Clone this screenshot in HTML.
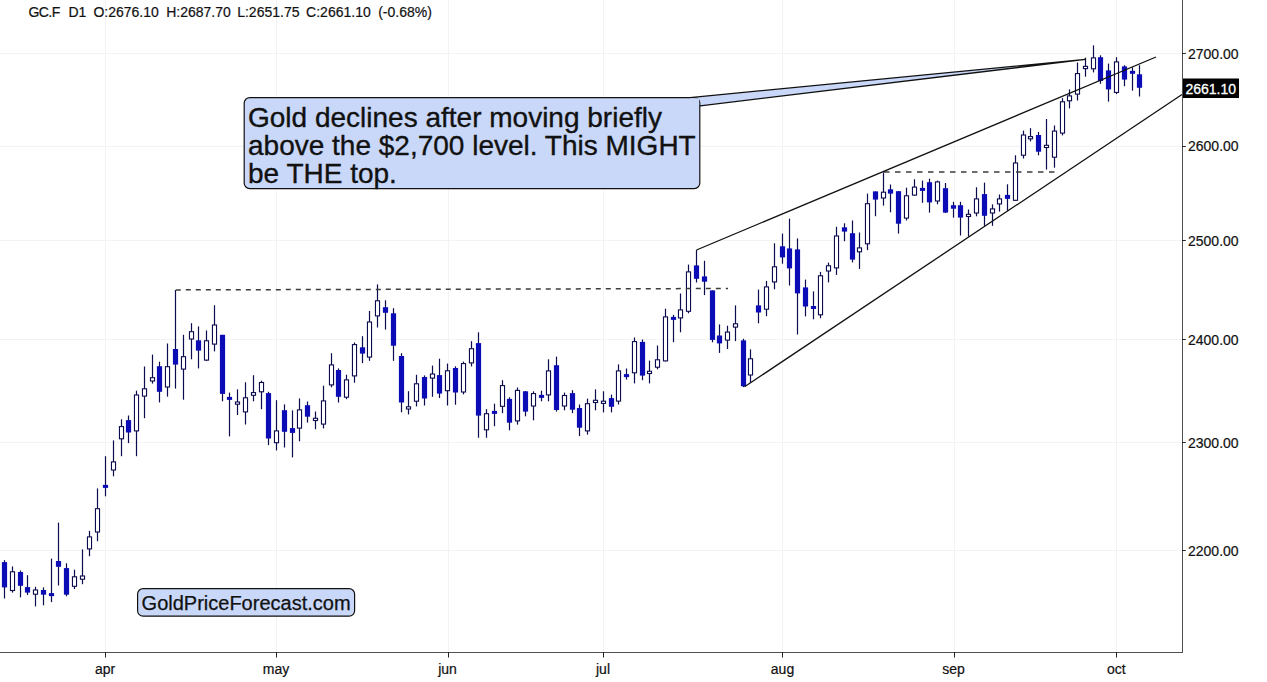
<!DOCTYPE html>
<html><head><meta charset="utf-8"><title>GC.F</title>
<style>
html,body{margin:0;padding:0;background:#fff;}
body{width:1267px;height:682px;position:relative;overflow:hidden;font-family:"Liberation Sans",sans-serif;color:#111;}
svg{position:absolute;left:0;top:0;}
.t{position:absolute;white-space:nowrap;line-height:1;-webkit-text-stroke:0.2px #111;}
.hd{font-size:14px;top:5px;}
.yl{font-size:14px;left:1188px;}
.xl{font-size:14px;top:662px;transform:translateX(-50%);}
.co{font-size:28px;line-height:28.1px;left:248px;top:104.3px;-webkit-text-stroke:0.35px #111;}
.wm{font-size:20px;left:141.6px;top:593.3px;-webkit-text-stroke:0.25px #111;}
.pt{font-size:14px;left:1185.4px;top:82.2px;color:#fff;-webkit-text-stroke:0.3px #fff;}
</style></head><body>
<svg width="1267" height="682" viewBox="0 0 1267 682">
<line x1="0" y1="53.5" x2="1182" y2="53.5" stroke="#f3f3f3" stroke-width="1"/>
<line x1="0" y1="146.5" x2="1182" y2="146.5" stroke="#f3f3f3" stroke-width="1"/>
<line x1="0" y1="240.5" x2="1182" y2="240.5" stroke="#f3f3f3" stroke-width="1"/>
<line x1="0" y1="339.5" x2="1182" y2="339.5" stroke="#f3f3f3" stroke-width="1"/>
<line x1="0" y1="442.5" x2="1182" y2="442.5" stroke="#f3f3f3" stroke-width="1"/>
<line x1="0" y1="550.5" x2="1182" y2="550.5" stroke="#f3f3f3" stroke-width="1"/>
<line x1="105.5" y1="0" x2="105.5" y2="652" stroke="#f3f3f3" stroke-width="1"/>
<line x1="276.5" y1="0" x2="276.5" y2="652" stroke="#f3f3f3" stroke-width="1"/>
<line x1="448.5" y1="0" x2="448.5" y2="652" stroke="#f3f3f3" stroke-width="1"/>
<line x1="603.5" y1="0" x2="603.5" y2="652" stroke="#f3f3f3" stroke-width="1"/>
<line x1="782.5" y1="0" x2="782.5" y2="652" stroke="#f3f3f3" stroke-width="1"/>
<line x1="954.5" y1="0" x2="954.5" y2="652" stroke="#f3f3f3" stroke-width="1"/>
<line x1="1116.5" y1="0" x2="1116.5" y2="652" stroke="#f3f3f3" stroke-width="1"/>
<rect x="3.9" y="560.2" width="1.2" height="38.3" fill="#0b0b4e"/>
<rect x="1.9" y="562.1" width="5.2" height="25.3" fill="#0c0cb6"/>
<rect x="11.9" y="566.5" width="1.2" height="26.1" fill="#0b0b4e"/>
<rect x="10.45" y="571.8" width="4.1" height="18.7" fill="#fff" stroke="#0b0b4e" stroke-width="1.1"/>
<rect x="19.9" y="570.5" width="1.2" height="26.9" fill="#0b0b4e"/>
<rect x="17.9" y="572.0" width="5.2" height="13.8" fill="#0c0cb6"/>
<rect x="26.9" y="575.2" width="1.2" height="19.8" fill="#0b0b4e"/>
<rect x="24.9" y="587.1" width="5.2" height="5.5" fill="#0c0cb6"/>
<rect x="34.9" y="586.8" width="1.2" height="19.6" fill="#0b0b4e"/>
<rect x="33.45" y="590.0" width="4.1" height="4.2" fill="#fff" stroke="#0b0b4e" stroke-width="1.1"/>
<rect x="42.9" y="587.4" width="1.2" height="17.9" fill="#0b0b4e"/>
<rect x="40.9" y="590.0" width="5.2" height="4.7" fill="#0c0cb6"/>
<rect x="50.9" y="558.6" width="1.2" height="43.5" fill="#0b0b4e"/>
<rect x="48.9" y="593.1" width="5.2" height="3.0" fill="#0c0cb6"/>
<rect x="57.9" y="522.6" width="1.2" height="62.9" fill="#0b0b4e"/>
<rect x="55.9" y="561.0" width="5.2" height="5.8" fill="#0c0cb6"/>
<rect x="65.9" y="563.3" width="1.2" height="33.0" fill="#0b0b4e"/>
<rect x="63.9" y="568.1" width="5.2" height="26.6" fill="#0c0cb6"/>
<rect x="73.9" y="569.7" width="1.2" height="19.3" fill="#0b0b4e"/>
<rect x="72.45" y="576.8" width="4.1" height="9.5" fill="#fff" stroke="#0b0b4e" stroke-width="1.1"/>
<rect x="81.9" y="549.4" width="1.2" height="34.8" fill="#0b0b4e"/>
<rect x="80.45" y="576.0" width="4.1" height="3.2" fill="#fff" stroke="#0b0b4e" stroke-width="1.1"/>
<rect x="88.9" y="530.9" width="1.2" height="25.3" fill="#0b0b4e"/>
<rect x="87.45" y="536.9" width="4.1" height="12.0" fill="#fff" stroke="#0b0b4e" stroke-width="1.1"/>
<rect x="96.9" y="488.4" width="1.2" height="52.8" fill="#0b0b4e"/>
<rect x="95.45" y="508.7" width="4.1" height="23.3" fill="#fff" stroke="#0b0b4e" stroke-width="1.1"/>
<rect x="104.9" y="456.2" width="1.2" height="40.1" fill="#0b0b4e"/>
<rect x="102.9" y="484.9" width="5.2" height="3.0" fill="#0c0cb6"/>
<rect x="112.9" y="440.4" width="1.2" height="35.9" fill="#0b0b4e"/>
<rect x="111.45" y="461.9" width="4.1" height="8.1" fill="#fff" stroke="#0b0b4e" stroke-width="1.1"/>
<rect x="120.9" y="419.3" width="1.2" height="36.9" fill="#0b0b4e"/>
<rect x="119.45" y="426.6" width="4.1" height="12.2" fill="#fff" stroke="#0b0b4e" stroke-width="1.1"/>
<rect x="127.9" y="415.5" width="1.2" height="27.6" fill="#0b0b4e"/>
<rect x="125.9" y="420.1" width="5.2" height="12.4" fill="#0c0cb6"/>
<rect x="135.9" y="390.7" width="1.2" height="65.5" fill="#0b0b4e"/>
<rect x="134.45" y="395.0" width="4.1" height="35.9" fill="#fff" stroke="#0b0b4e" stroke-width="1.1"/>
<rect x="143.9" y="366.5" width="1.2" height="51.7" fill="#0b0b4e"/>
<rect x="142.45" y="388.8" width="4.1" height="7.3" fill="#fff" stroke="#0b0b4e" stroke-width="1.1"/>
<rect x="151.9" y="354.6" width="1.2" height="29.0" fill="#0b0b4e"/>
<rect x="150.45" y="377.7" width="4.1" height="3.3" fill="#fff" stroke="#0b0b4e" stroke-width="1.1"/>
<rect x="158.9" y="361.7" width="1.2" height="40.7" fill="#0b0b4e"/>
<rect x="156.9" y="366.2" width="5.2" height="25.6" fill="#0c0cb6"/>
<rect x="166.9" y="343.5" width="1.2" height="53.1" fill="#0b0b4e"/>
<rect x="165.45" y="366.7" width="4.1" height="20.3" fill="#fff" stroke="#0b0b4e" stroke-width="1.1"/>
<rect x="174.9" y="290.0" width="1.2" height="98.6" fill="#0b0b4e"/>
<rect x="172.9" y="349.0" width="5.2" height="15.6" fill="#0c0cb6"/>
<rect x="182.9" y="334.8" width="1.2" height="64.9" fill="#0b0b4e"/>
<rect x="181.45" y="356.7" width="4.1" height="12.4" fill="#fff" stroke="#0b0b4e" stroke-width="1.1"/>
<rect x="190.9" y="323.2" width="1.2" height="36.1" fill="#0b0b4e"/>
<rect x="189.45" y="331.7" width="4.1" height="7.3" fill="#fff" stroke="#0b0b4e" stroke-width="1.1"/>
<rect x="197.9" y="326.4" width="1.2" height="42.0" fill="#0b0b4e"/>
<rect x="195.9" y="340.3" width="5.2" height="10.3" fill="#0c0cb6"/>
<rect x="205.9" y="330.5" width="1.2" height="30.5" fill="#0b0b4e"/>
<rect x="204.45" y="340.8" width="4.1" height="19.3" fill="#fff" stroke="#0b0b4e" stroke-width="1.1"/>
<rect x="213.9" y="305.2" width="1.2" height="46.2" fill="#0b0b4e"/>
<rect x="212.45" y="325.0" width="4.1" height="19.1" fill="#fff" stroke="#0b0b4e" stroke-width="1.1"/>
<rect x="221.9" y="334.8" width="1.2" height="66.5" fill="#0b0b4e"/>
<rect x="219.9" y="334.8" width="5.2" height="59.1" fill="#0c0cb6"/>
<rect x="228.9" y="392.6" width="1.2" height="43.8" fill="#0b0b4e"/>
<rect x="226.9" y="396.9" width="5.2" height="3.0" fill="#0c0cb6"/>
<rect x="236.9" y="389.4" width="1.2" height="25.6" fill="#0b0b4e"/>
<rect x="235.45" y="402.0" width="4.1" height="2.2" fill="#fff" stroke="#0b0b4e" stroke-width="1.1"/>
<rect x="244.9" y="382.3" width="1.2" height="42.2" fill="#0b0b4e"/>
<rect x="243.45" y="397.8" width="4.1" height="14.1" fill="#fff" stroke="#0b0b4e" stroke-width="1.1"/>
<rect x="252.9" y="375.2" width="1.2" height="26.1" fill="#0b0b4e"/>
<rect x="251.45" y="392.6" width="4.1" height="2.7" fill="#fff" stroke="#0b0b4e" stroke-width="1.1"/>
<rect x="260.9" y="380.7" width="1.2" height="28.5" fill="#0b0b4e"/>
<rect x="259.45" y="382.5" width="4.1" height="9.3" fill="#fff" stroke="#0b0b4e" stroke-width="1.1"/>
<rect x="267.9" y="391.8" width="1.2" height="53.3" fill="#0b0b4e"/>
<rect x="265.9" y="393.1" width="5.2" height="45.4" fill="#0c0cb6"/>
<rect x="275.9" y="400.2" width="1.2" height="50.2" fill="#0b0b4e"/>
<rect x="274.45" y="430.9" width="4.1" height="11.8" fill="#fff" stroke="#0b0b4e" stroke-width="1.1"/>
<rect x="283.9" y="404.4" width="1.2" height="43.1" fill="#0b0b4e"/>
<rect x="281.9" y="410.2" width="5.2" height="21.6" fill="#0c0cb6"/>
<rect x="291.9" y="410.4" width="1.2" height="47.0" fill="#0b0b4e"/>
<rect x="289.9" y="428.1" width="5.2" height="4.8" fill="#0c0cb6"/>
<rect x="298.9" y="398.5" width="1.2" height="42.8" fill="#0b0b4e"/>
<rect x="297.45" y="409.9" width="4.1" height="18.2" fill="#fff" stroke="#0b0b4e" stroke-width="1.1"/>
<rect x="306.9" y="401.5" width="1.2" height="21.1" fill="#0b0b4e"/>
<rect x="304.9" y="405.2" width="5.2" height="11.5" fill="#0c0cb6"/>
<rect x="314.9" y="411.5" width="1.2" height="17.7" fill="#0b0b4e"/>
<rect x="313.45" y="418.3" width="4.1" height="2.2" fill="#fff" stroke="#0b0b4e" stroke-width="1.1"/>
<rect x="322.9" y="385.7" width="1.2" height="42.7" fill="#0b0b4e"/>
<rect x="321.45" y="400.9" width="4.1" height="23.2" fill="#fff" stroke="#0b0b4e" stroke-width="1.1"/>
<rect x="330.9" y="353.2" width="1.2" height="34.1" fill="#0b0b4e"/>
<rect x="329.45" y="364.9" width="4.1" height="20.0" fill="#fff" stroke="#0b0b4e" stroke-width="1.1"/>
<rect x="337.9" y="368.4" width="1.2" height="34.1" fill="#0b0b4e"/>
<rect x="335.9" y="370.0" width="5.2" height="26.8" fill="#0c0cb6"/>
<rect x="345.9" y="374.7" width="1.2" height="24.5" fill="#0b0b4e"/>
<rect x="344.45" y="379.9" width="4.1" height="17.3" fill="#fff" stroke="#0b0b4e" stroke-width="1.1"/>
<rect x="353.9" y="342.5" width="1.2" height="40.2" fill="#0b0b4e"/>
<rect x="352.45" y="344.6" width="4.1" height="31.3" fill="#fff" stroke="#0b0b4e" stroke-width="1.1"/>
<rect x="361.9" y="336.2" width="1.2" height="26.9" fill="#0b0b4e"/>
<rect x="359.9" y="347.3" width="5.2" height="6.3" fill="#0c0cb6"/>
<rect x="368.9" y="310.9" width="1.2" height="49.9" fill="#0b0b4e"/>
<rect x="367.45" y="322.0" width="4.1" height="35.1" fill="#fff" stroke="#0b0b4e" stroke-width="1.1"/>
<rect x="376.9" y="284.4" width="1.2" height="43.1" fill="#0b0b4e"/>
<rect x="375.45" y="300.8" width="4.1" height="15.1" fill="#fff" stroke="#0b0b4e" stroke-width="1.1"/>
<rect x="384.9" y="300.3" width="1.2" height="29.3" fill="#0b0b4e"/>
<rect x="382.9" y="307.2" width="5.2" height="5.6" fill="#0c0cb6"/>
<rect x="392.9" y="308.2" width="1.2" height="52.6" fill="#0b0b4e"/>
<rect x="390.9" y="313.3" width="5.2" height="32.4" fill="#0c0cb6"/>
<rect x="400.9" y="353.2" width="1.2" height="59.1" fill="#0b0b4e"/>
<rect x="398.9" y="356.0" width="5.2" height="46.5" fill="#0c0cb6"/>
<rect x="407.9" y="391.2" width="1.2" height="23.2" fill="#0b0b4e"/>
<rect x="406.45" y="406.8" width="4.1" height="2.2" fill="#fff" stroke="#0b0b4e" stroke-width="1.1"/>
<rect x="415.9" y="374.8" width="1.2" height="31.6" fill="#0b0b4e"/>
<rect x="414.45" y="383.8" width="4.1" height="17.4" fill="#fff" stroke="#0b0b4e" stroke-width="1.1"/>
<rect x="423.9" y="375.4" width="1.2" height="30.1" fill="#0b0b4e"/>
<rect x="421.9" y="377.0" width="5.2" height="21.5" fill="#0c0cb6"/>
<rect x="431.9" y="365.6" width="1.2" height="31.2" fill="#0b0b4e"/>
<rect x="430.45" y="374.0" width="4.1" height="4.1" fill="#fff" stroke="#0b0b4e" stroke-width="1.1"/>
<rect x="438.9" y="358.7" width="1.2" height="39.3" fill="#0b0b4e"/>
<rect x="436.9" y="375.1" width="5.2" height="18.5" fill="#0c0cb6"/>
<rect x="446.9" y="363.6" width="1.2" height="41.9" fill="#0b0b4e"/>
<rect x="445.45" y="370.8" width="4.1" height="19.9" fill="#fff" stroke="#0b0b4e" stroke-width="1.1"/>
<rect x="454.9" y="366.3" width="1.2" height="38.4" fill="#0b0b4e"/>
<rect x="452.9" y="368.0" width="5.2" height="24.5" fill="#0c0cb6"/>
<rect x="462.9" y="361.6" width="1.2" height="32.8" fill="#0b0b4e"/>
<rect x="461.45" y="363.6" width="4.1" height="28.4" fill="#fff" stroke="#0b0b4e" stroke-width="1.1"/>
<rect x="470.9" y="341.2" width="1.2" height="25.2" fill="#0b0b4e"/>
<rect x="469.45" y="348.7" width="4.1" height="14.2" fill="#fff" stroke="#0b0b4e" stroke-width="1.1"/>
<rect x="477.9" y="332.3" width="1.2" height="105.4" fill="#0b0b4e"/>
<rect x="475.9" y="343.1" width="5.2" height="72.5" fill="#0c0cb6"/>
<rect x="485.9" y="409.2" width="1.2" height="28.5" fill="#0b0b4e"/>
<rect x="484.45" y="413.7" width="4.1" height="16.1" fill="#fff" stroke="#0b0b4e" stroke-width="1.1"/>
<rect x="493.9" y="403.7" width="1.2" height="22.5" fill="#0b0b4e"/>
<rect x="491.9" y="410.9" width="5.2" height="3.0" fill="#0c0cb6"/>
<rect x="501.9" y="380.2" width="1.2" height="33.0" fill="#0b0b4e"/>
<rect x="500.45" y="385.6" width="4.1" height="20.7" fill="#fff" stroke="#0b0b4e" stroke-width="1.1"/>
<rect x="508.9" y="397.3" width="1.2" height="33.0" fill="#0b0b4e"/>
<rect x="506.9" y="398.9" width="5.2" height="23.8" fill="#0c0cb6"/>
<rect x="516.9" y="387.5" width="1.2" height="37.1" fill="#0b0b4e"/>
<rect x="515.45" y="390.4" width="4.1" height="30.5" fill="#fff" stroke="#0b0b4e" stroke-width="1.1"/>
<rect x="524.9" y="391.0" width="1.2" height="25.3" fill="#0b0b4e"/>
<rect x="522.9" y="391.3" width="5.2" height="20.3" fill="#0c0cb6"/>
<rect x="532.9" y="391.3" width="1.2" height="29.0" fill="#0b0b4e"/>
<rect x="531.45" y="393.6" width="4.1" height="12.4" fill="#fff" stroke="#0b0b4e" stroke-width="1.1"/>
<rect x="540.9" y="390.7" width="1.2" height="10.6" fill="#0b0b4e"/>
<rect x="538.9" y="394.9" width="5.2" height="3.0" fill="#0c0cb6"/>
<rect x="547.9" y="359.3" width="1.2" height="42.0" fill="#0b0b4e"/>
<rect x="546.45" y="370.9" width="4.1" height="24.0" fill="#fff" stroke="#0b0b4e" stroke-width="1.1"/>
<rect x="555.9" y="356.6" width="1.2" height="55.0" fill="#0b0b4e"/>
<rect x="553.9" y="365.2" width="5.2" height="44.8" fill="#0c0cb6"/>
<rect x="563.9" y="392.6" width="1.2" height="17.7" fill="#0b0b4e"/>
<rect x="562.45" y="395.5" width="4.1" height="10.5" fill="#fff" stroke="#0b0b4e" stroke-width="1.1"/>
<rect x="571.9" y="390.2" width="1.2" height="23.0" fill="#0b0b4e"/>
<rect x="569.9" y="393.1" width="5.2" height="16.6" fill="#0c0cb6"/>
<rect x="578.9" y="404.5" width="1.2" height="31.6" fill="#0b0b4e"/>
<rect x="576.9" y="408.0" width="5.2" height="19.7" fill="#0c0cb6"/>
<rect x="586.9" y="398.6" width="1.2" height="36.0" fill="#0b0b4e"/>
<rect x="585.45" y="403.7" width="4.1" height="27.2" fill="#fff" stroke="#0b0b4e" stroke-width="1.1"/>
<rect x="594.9" y="389.4" width="1.2" height="20.9" fill="#0b0b4e"/>
<rect x="593.45" y="400.3" width="4.1" height="2.2" fill="#fff" stroke="#0b0b4e" stroke-width="1.1"/>
<rect x="602.9" y="391.3" width="1.2" height="21.1" fill="#0b0b4e"/>
<rect x="601.45" y="401.2" width="4.1" height="2.2" fill="#fff" stroke="#0b0b4e" stroke-width="1.1"/>
<rect x="610.9" y="394.6" width="1.2" height="17.8" fill="#0b0b4e"/>
<rect x="608.9" y="398.1" width="5.2" height="8.7" fill="#0c0cb6"/>
<rect x="617.9" y="364.4" width="1.2" height="40.1" fill="#0b0b4e"/>
<rect x="616.45" y="370.9" width="4.1" height="30.2" fill="#fff" stroke="#0b0b4e" stroke-width="1.1"/>
<rect x="625.9" y="368.5" width="1.2" height="11.1" fill="#0b0b4e"/>
<rect x="623.9" y="374.1" width="5.2" height="3.0" fill="#0c0cb6"/>
<rect x="633.9" y="337.5" width="1.2" height="45.9" fill="#0b0b4e"/>
<rect x="632.45" y="341.6" width="4.1" height="31.2" fill="#fff" stroke="#0b0b4e" stroke-width="1.1"/>
<rect x="641.9" y="339.5" width="1.2" height="40.7" fill="#0b0b4e"/>
<rect x="639.9" y="341.9" width="5.2" height="33.7" fill="#0c0cb6"/>
<rect x="648.9" y="360.6" width="1.2" height="22.8" fill="#0b0b4e"/>
<rect x="647.45" y="371.3" width="4.1" height="2.2" fill="#fff" stroke="#0b0b4e" stroke-width="1.1"/>
<rect x="656.9" y="345.5" width="1.2" height="23.8" fill="#0b0b4e"/>
<rect x="655.45" y="359.8" width="4.1" height="7.4" fill="#fff" stroke="#0b0b4e" stroke-width="1.1"/>
<rect x="664.9" y="308.7" width="1.2" height="52.7" fill="#0b0b4e"/>
<rect x="663.45" y="316.9" width="4.1" height="44.0" fill="#fff" stroke="#0b0b4e" stroke-width="1.1"/>
<rect x="672.9" y="314.9" width="1.2" height="27.3" fill="#0b0b4e"/>
<rect x="670.9" y="316.9" width="5.2" height="3.0" fill="#0c0cb6"/>
<rect x="679.9" y="293.5" width="1.2" height="38.8" fill="#0b0b4e"/>
<rect x="678.45" y="309.9" width="4.1" height="8.0" fill="#fff" stroke="#0b0b4e" stroke-width="1.1"/>
<rect x="687.9" y="264.6" width="1.2" height="48.7" fill="#0b0b4e"/>
<rect x="686.45" y="271.9" width="4.1" height="39.4" fill="#fff" stroke="#0b0b4e" stroke-width="1.1"/>
<rect x="695.9" y="250.0" width="1.2" height="32.5" fill="#0b0b4e"/>
<rect x="693.9" y="265.4" width="5.2" height="13.4" fill="#0c0cb6"/>
<rect x="703.9" y="260.8" width="1.2" height="34.3" fill="#0b0b4e"/>
<rect x="701.9" y="276.4" width="5.2" height="5.3" fill="#0c0cb6"/>
<rect x="711.9" y="290.4" width="1.2" height="51.9" fill="#0b0b4e"/>
<rect x="709.9" y="290.4" width="5.2" height="49.5" fill="#0c0cb6"/>
<rect x="718.9" y="324.4" width="1.2" height="28.5" fill="#0b0b4e"/>
<rect x="716.9" y="335.5" width="5.2" height="7.9" fill="#0c0cb6"/>
<rect x="726.9" y="325.7" width="1.2" height="23.3" fill="#0b0b4e"/>
<rect x="725.45" y="332.1" width="4.1" height="8.0" fill="#fff" stroke="#0b0b4e" stroke-width="1.1"/>
<rect x="734.9" y="305.4" width="1.2" height="35.7" fill="#0b0b4e"/>
<rect x="733.45" y="323.8" width="4.1" height="3.3" fill="#fff" stroke="#0b0b4e" stroke-width="1.1"/>
<rect x="742.9" y="338.8" width="1.2" height="48.3" fill="#0b0b4e"/>
<rect x="740.9" y="340.4" width="5.2" height="45.9" fill="#0c0cb6"/>
<rect x="749.9" y="349.4" width="1.2" height="33.3" fill="#0b0b4e"/>
<rect x="748.45" y="358.8" width="4.1" height="16.2" fill="#fff" stroke="#0b0b4e" stroke-width="1.1"/>
<rect x="757.9" y="289.6" width="1.2" height="33.7" fill="#0b0b4e"/>
<rect x="755.9" y="305.4" width="5.2" height="7.1" fill="#0c0cb6"/>
<rect x="765.9" y="280.9" width="1.2" height="35.3" fill="#0b0b4e"/>
<rect x="764.45" y="286.9" width="4.1" height="22.3" fill="#fff" stroke="#0b0b4e" stroke-width="1.1"/>
<rect x="773.9" y="243.3" width="1.2" height="46.0" fill="#0b0b4e"/>
<rect x="772.45" y="266.8" width="4.1" height="15.1" fill="#fff" stroke="#0b0b4e" stroke-width="1.1"/>
<rect x="781.9" y="233.6" width="1.2" height="30.1" fill="#0b0b4e"/>
<rect x="779.9" y="246.3" width="5.2" height="11.1" fill="#0c0cb6"/>
<rect x="788.9" y="218.6" width="1.2" height="66.9" fill="#0b0b4e"/>
<rect x="786.9" y="248.4" width="5.2" height="20.0" fill="#0c0cb6"/>
<rect x="796.9" y="238.4" width="1.2" height="96.1" fill="#0b0b4e"/>
<rect x="794.9" y="249.4" width="5.2" height="44.0" fill="#0c0cb6"/>
<rect x="804.9" y="279.6" width="1.2" height="36.8" fill="#0b0b4e"/>
<rect x="802.9" y="287.4" width="5.2" height="19.1" fill="#0c0cb6"/>
<rect x="812.9" y="291.4" width="1.2" height="27.9" fill="#0b0b4e"/>
<rect x="810.9" y="306.0" width="5.2" height="3.0" fill="#0c0cb6"/>
<rect x="819.9" y="271.9" width="1.2" height="46.3" fill="#0b0b4e"/>
<rect x="818.45" y="275.8" width="4.1" height="39.0" fill="#fff" stroke="#0b0b4e" stroke-width="1.1"/>
<rect x="827.9" y="262.6" width="1.2" height="19.8" fill="#0b0b4e"/>
<rect x="826.45" y="265.8" width="4.1" height="5.2" fill="#fff" stroke="#0b0b4e" stroke-width="1.1"/>
<rect x="835.9" y="226.8" width="1.2" height="48.1" fill="#0b0b4e"/>
<rect x="834.45" y="236.0" width="4.1" height="31.9" fill="#fff" stroke="#0b0b4e" stroke-width="1.1"/>
<rect x="843.9" y="223.3" width="1.2" height="17.9" fill="#0b0b4e"/>
<rect x="841.9" y="227.3" width="5.2" height="4.3" fill="#0c0cb6"/>
<rect x="851.9" y="220.5" width="1.2" height="41.9" fill="#0b0b4e"/>
<rect x="849.9" y="233.2" width="5.2" height="26.4" fill="#0c0cb6"/>
<rect x="858.9" y="232.5" width="1.2" height="36.4" fill="#0b0b4e"/>
<rect x="857.45" y="247.9" width="4.1" height="3.9" fill="#fff" stroke="#0b0b4e" stroke-width="1.1"/>
<rect x="866.9" y="193.6" width="1.2" height="56.5" fill="#0b0b4e"/>
<rect x="865.45" y="203.7" width="4.1" height="40.1" fill="#fff" stroke="#0b0b4e" stroke-width="1.1"/>
<rect x="874.9" y="191.4" width="1.2" height="24.8" fill="#0b0b4e"/>
<rect x="872.9" y="191.4" width="5.2" height="8.2" fill="#0c0cb6"/>
<rect x="882.9" y="172.4" width="1.2" height="33.2" fill="#0b0b4e"/>
<rect x="881.45" y="192.2" width="4.1" height="5.8" fill="#fff" stroke="#0b0b4e" stroke-width="1.1"/>
<rect x="889.9" y="184.5" width="1.2" height="27.8" fill="#0b0b4e"/>
<rect x="887.9" y="189.3" width="5.2" height="4.3" fill="#0c0cb6"/>
<rect x="897.9" y="191.2" width="1.2" height="42.4" fill="#0b0b4e"/>
<rect x="895.9" y="191.2" width="5.2" height="32.5" fill="#0c0cb6"/>
<rect x="905.9" y="187.7" width="1.2" height="32.8" fill="#0b0b4e"/>
<rect x="904.45" y="195.8" width="4.1" height="22.3" fill="#fff" stroke="#0b0b4e" stroke-width="1.1"/>
<rect x="913.9" y="179.3" width="1.2" height="16.3" fill="#0b0b4e"/>
<rect x="912.45" y="187.1" width="4.1" height="8.0" fill="#fff" stroke="#0b0b4e" stroke-width="1.1"/>
<rect x="921.9" y="180.6" width="1.2" height="22.2" fill="#0b0b4e"/>
<rect x="919.9" y="187.9" width="5.2" height="3.0" fill="#0c0cb6"/>
<rect x="928.9" y="178.7" width="1.2" height="33.9" fill="#0b0b4e"/>
<rect x="926.9" y="182.2" width="5.2" height="20.2" fill="#0c0cb6"/>
<rect x="936.9" y="180.6" width="1.2" height="23.7" fill="#0b0b4e"/>
<rect x="935.45" y="181.9" width="4.1" height="19.1" fill="#fff" stroke="#0b0b4e" stroke-width="1.1"/>
<rect x="944.9" y="183.0" width="1.2" height="30.0" fill="#0b0b4e"/>
<rect x="942.9" y="188.2" width="5.2" height="24.4" fill="#0c0cb6"/>
<rect x="952.9" y="201.8" width="1.2" height="15.8" fill="#0b0b4e"/>
<rect x="950.9" y="205.2" width="5.2" height="3.5" fill="#0c0cb6"/>
<rect x="959.9" y="201.8" width="1.2" height="33.7" fill="#0b0b4e"/>
<rect x="957.9" y="205.2" width="5.2" height="12.4" fill="#0c0cb6"/>
<rect x="967.9" y="209.5" width="1.2" height="27.1" fill="#0b0b4e"/>
<rect x="966.45" y="214.3" width="4.1" height="2.2" fill="#fff" stroke="#0b0b4e" stroke-width="1.1"/>
<rect x="975.9" y="187.3" width="1.2" height="29.0" fill="#0b0b4e"/>
<rect x="974.45" y="198.9" width="4.1" height="14.1" fill="#fff" stroke="#0b0b4e" stroke-width="1.1"/>
<rect x="983.9" y="182.6" width="1.2" height="43.2" fill="#0b0b4e"/>
<rect x="981.9" y="194.1" width="5.2" height="21.7" fill="#0c0cb6"/>
<rect x="991.9" y="204.4" width="1.2" height="21.4" fill="#0b0b4e"/>
<rect x="990.45" y="208.9" width="4.1" height="4.1" fill="#fff" stroke="#0b0b4e" stroke-width="1.1"/>
<rect x="998.9" y="194.5" width="1.2" height="17.1" fill="#0b0b4e"/>
<rect x="997.45" y="198.9" width="4.1" height="5.0" fill="#fff" stroke="#0b0b4e" stroke-width="1.1"/>
<rect x="1006.9" y="184.3" width="1.2" height="26.5" fill="#0b0b4e"/>
<rect x="1004.9" y="194.9" width="5.2" height="4.0" fill="#0c0cb6"/>
<rect x="1014.9" y="155.3" width="1.2" height="45.5" fill="#0b0b4e"/>
<rect x="1013.45" y="163.0" width="4.1" height="37.3" fill="#fff" stroke="#0b0b4e" stroke-width="1.1"/>
<rect x="1022.9" y="130.6" width="1.2" height="27.9" fill="#0b0b4e"/>
<rect x="1021.45" y="135.0" width="4.1" height="20.2" fill="#fff" stroke="#0b0b4e" stroke-width="1.1"/>
<rect x="1029.9" y="128.2" width="1.2" height="13.2" fill="#0b0b4e"/>
<rect x="1028.45" y="136.6" width="4.1" height="2.2" fill="#fff" stroke="#0b0b4e" stroke-width="1.1"/>
<rect x="1037.9" y="131.9" width="1.2" height="23.4" fill="#0b0b4e"/>
<rect x="1035.9" y="135.0" width="5.2" height="16.7" fill="#0c0cb6"/>
<rect x="1045.9" y="119.0" width="1.2" height="50.6" fill="#0b0b4e"/>
<rect x="1044.45" y="145.3" width="4.1" height="2.2" fill="#fff" stroke="#0b0b4e" stroke-width="1.1"/>
<rect x="1053.9" y="125.5" width="1.2" height="42.2" fill="#0b0b4e"/>
<rect x="1052.45" y="131.1" width="4.1" height="26.1" fill="#fff" stroke="#0b0b4e" stroke-width="1.1"/>
<rect x="1061.9" y="98.1" width="1.2" height="37.3" fill="#0b0b4e"/>
<rect x="1060.45" y="101.8" width="4.1" height="31.3" fill="#fff" stroke="#0b0b4e" stroke-width="1.1"/>
<rect x="1068.9" y="89.4" width="1.2" height="19.0" fill="#0b0b4e"/>
<rect x="1067.45" y="95.9" width="4.1" height="4.9" fill="#fff" stroke="#0b0b4e" stroke-width="1.1"/>
<rect x="1076.9" y="62.5" width="1.2" height="38.0" fill="#0b0b4e"/>
<rect x="1075.45" y="73.6" width="4.1" height="20.5" fill="#fff" stroke="#0b0b4e" stroke-width="1.1"/>
<rect x="1084.9" y="57.7" width="1.2" height="19.0" fill="#0b0b4e"/>
<rect x="1083.45" y="66.4" width="4.1" height="2.2" fill="#fff" stroke="#0b0b4e" stroke-width="1.1"/>
<rect x="1092.9" y="45.4" width="1.2" height="27.0" fill="#0b0b4e"/>
<rect x="1091.45" y="57.9" width="4.1" height="10.9" fill="#fff" stroke="#0b0b4e" stroke-width="1.1"/>
<rect x="1099.9" y="55.3" width="1.2" height="28.5" fill="#0b0b4e"/>
<rect x="1097.9" y="57.2" width="5.2" height="23.8" fill="#0c0cb6"/>
<rect x="1107.9" y="63.6" width="1.2" height="38.0" fill="#0b0b4e"/>
<rect x="1105.9" y="70.4" width="5.2" height="19.0" fill="#0c0cb6"/>
<rect x="1115.9" y="57.2" width="1.2" height="36.9" fill="#0b0b4e"/>
<rect x="1114.45" y="61.9" width="4.1" height="30.5" fill="#fff" stroke="#0b0b4e" stroke-width="1.1"/>
<rect x="1123.9" y="65.2" width="1.2" height="21.0" fill="#0b0b4e"/>
<rect x="1121.9" y="66.4" width="5.2" height="13.2" fill="#0c0cb6"/>
<rect x="1131.9" y="67.2" width="1.2" height="23.4" fill="#0b0b4e"/>
<rect x="1129.9" y="70.8" width="5.2" height="3.0" fill="#0c0cb6"/>
<rect x="1138.9" y="65.2" width="1.2" height="31.3" fill="#0b0b4e"/>
<rect x="1136.9" y="74.3" width="5.2" height="13.5" fill="#0c0cb6"/>
<line x1="175.8" y1="289.9" x2="728" y2="288.5" stroke="#3c3c3c" stroke-width="1.5" stroke-dasharray="5 5"/>
<line x1="884" y1="172.1" x2="1055.5" y2="172.1" stroke="#3c3c3c" stroke-width="1.5" stroke-dasharray="5.5 5.5"/>
<line x1="696.5" y1="250" x2="1156" y2="57" stroke="#111" stroke-width="1.3"/>
<line x1="744.5" y1="386.8" x2="1182" y2="94.5" stroke="#111" stroke-width="1.3"/>
<polygon points="690,97.6 1085.5,59.4 700.2,105.8" fill="#c9d8f8" stroke="#111" stroke-width="1.3" stroke-linejoin="round"/>
<rect x="244.2" y="97.6" width="455.6" height="91" rx="5.5" fill="#c9d8f8" stroke="#111" stroke-width="1.2"/>
<polygon points="690,98.3 699.2,98.3 699.2,105.2 692,104" fill="#c9d8f8"/>
<rect x="137.6" y="588.6" width="217" height="27.6" rx="5.5" fill="#c9d8f8" stroke="#111" stroke-width="1.2"/>
<line x1="1182.5" y1="0" x2="1182.5" y2="652.5" stroke="#505050" stroke-width="1"/>
<line x1="0" y1="652.5" x2="1183" y2="652.5" stroke="#505050" stroke-width="1"/>
<line x1="1182" y1="53.5" x2="1185.8" y2="53.5" stroke="#222" stroke-width="1"/>
<line x1="1182" y1="146.5" x2="1185.8" y2="146.5" stroke="#222" stroke-width="1"/>
<line x1="1182" y1="240.5" x2="1185.8" y2="240.5" stroke="#222" stroke-width="1"/>
<line x1="1182" y1="339.5" x2="1185.8" y2="339.5" stroke="#222" stroke-width="1"/>
<line x1="1182" y1="442.5" x2="1185.8" y2="442.5" stroke="#222" stroke-width="1"/>
<line x1="1182" y1="550.5" x2="1185.8" y2="550.5" stroke="#222" stroke-width="1"/>
<line x1="105.5" y1="652" x2="105.5" y2="657.5" stroke="#222" stroke-width="1"/>
<line x1="276.5" y1="652" x2="276.5" y2="657.5" stroke="#222" stroke-width="1"/>
<line x1="448.5" y1="652" x2="448.5" y2="657.5" stroke="#222" stroke-width="1"/>
<line x1="603.5" y1="652" x2="603.5" y2="657.5" stroke="#222" stroke-width="1"/>
<line x1="782.5" y1="652" x2="782.5" y2="657.5" stroke="#222" stroke-width="1"/>
<line x1="954.5" y1="652" x2="954.5" y2="657.5" stroke="#222" stroke-width="1"/>
<line x1="1116.5" y1="652" x2="1116.5" y2="657.5" stroke="#222" stroke-width="1"/>
<rect x="1183" y="78.5" width="56" height="19.5" fill="#000"/>
</svg>
<div class="t hd" style="left:28.4px;letter-spacing:-0.55px">GC.F</div>
<div class="t hd" style="left:68.5px">D1</div>
<div class="t hd" style="left:93.4px">O:2676.10</div>
<div class="t hd" style="left:166.2px">H:2687.70</div>
<div class="t hd" style="left:237.2px">L:2651.75</div>
<div class="t hd" style="left:306.1px">C:2661.10</div>
<div class="t hd" style="left:378.2px">(-0.68%)</div>
<div class="t yl" style="top:46.6px">2700.00</div>
<div class="t yl" style="top:139.2px">2600.00</div>
<div class="t yl" style="top:233.6px">2500.00</div>
<div class="t yl" style="top:332.5px">2400.00</div>
<div class="t yl" style="top:435.6px">2300.00</div>
<div class="t yl" style="top:543.6px">2200.00</div>
<div class="t xl" style="left:105px">apr</div>
<div class="t xl" style="left:276px">may</div>
<div class="t xl" style="left:447.5px">jun</div>
<div class="t xl" style="left:603px">jul</div>
<div class="t xl" style="left:782.5px">aug</div>
<div class="t xl" style="left:953.5px">sep</div>
<div class="t xl" style="left:1116.3px">oct</div>
<div class="t co">Gold declines after moving briefly<br>above the $2,700 level. This MIGHT<br>be THE top.</div>
<div class="t wm">GoldPriceForecast.com</div>
<div class="t pt">2661.10</div>
</body></html>
